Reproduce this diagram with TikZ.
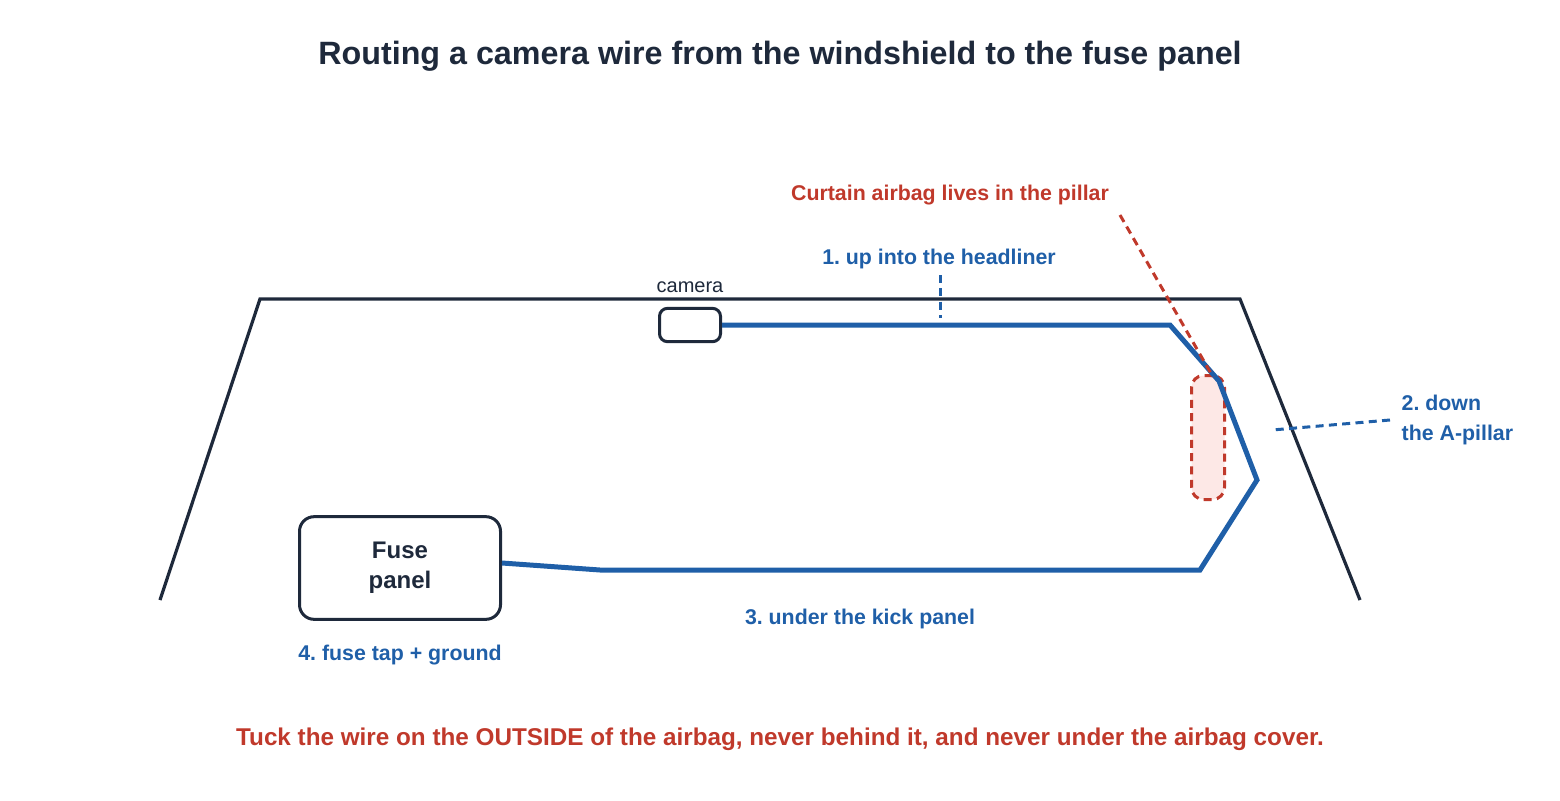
\documentclass[tikz,border=0pt]{standalone}
\usepackage{fontspec}
\setmainfont{Liberation Sans}
\usetikzlibrary{positioning}
\definecolor{navy}{RGB}{30,41,59}
\definecolor{wireblue}{RGB}{31,95,168}
\definecolor{warnred}{RGB}{192,57,43}
\definecolor{bagpink}{RGB}{253,232,230}
\tikzset{
x=0.75pt, y=-0.75pt, % one unit is one pixel of the sketch
frame/.style={draw=navy, line width=2.4pt, line join=miter},
wire/.style={draw=wireblue, line width=3.75pt, line join=miter},
box/.style={draw=navy, line width=2.25pt, fill=white, inner sep=0pt},
leader/.style={line width=2.25pt, dash pattern=on 6pt off 4pt},
bluelabel/.style={text=wireblue, font=\bfseries\fontsize{16}{22.5}\selectfont},
redlabel/.style={text=warnred, font=\bfseries\fontsize{16}{22.5}\selectfont},
}
\frenchspacing
\begin{document}
\begin{tikzpicture}
\useasboundingbox (0,0) rectangle (1560,800);
% title
\node[text=navy, font=\bfseries\fontsize{24.2}{28}\selectfont] (title) at (780,56) {Routing a camera wire from the windshield to the fuse panel};
% windshield frame
\draw[frame] (160,600) -- (260,299) -- (1240,299) -- (1360,600);
% boxes
\node[box, rounded corners=6pt, minimum width=45.75pt, minimum height=25pt] (cam) at (690,325) {};
\node[box, rounded corners=11pt, minimum width=150.75pt, minimum height=77pt, align=center, text=navy, font=\bfseries\fontsize{18}{22.5}\selectfont] (fuse) at (400,568) {Fuse\\panel};
\node[draw=warnred, fill=bagpink, leader, rounded corners=9pt, minimum width=24.75pt, minimum height=93pt, inner sep=0pt] (bag) at (1208,437.5) {};
% wire route
\draw[wire] (cam.east) -- (1170,325) -- (1219,381) -- (1257,480) -- (1200,570) -- (600,570) -- ([yshift=3.75pt]fuse.east);
% labels
\node[text=navy, font=\fontsize{15}{18}\selectfont] (camlabel) at (690,287) {camera};
\node[redlabel] (curtain) at (950,195) {Curtain airbag lives in the pillar};
\node[bluelabel] (up) at (939,259) {1. up into the headliner};
\node[bluelabel, anchor=west, align=left] (down) at (1397,420) {2. down\\the A-pillar};
\node[bluelabel] (kick) at (860,619) {3. under the kick panel};
\node[bluelabel] (fusetap) at (400,655) {4. fuse tap + ground};
\node[redlabel, font=\bfseries\fontsize{18.2}{22}\selectfont] (note) at (780,739) {Tuck the wire on the OUTSIDE of the airbag, never behind it, and never under the airbag cover.};
% leader lines
\coordinate (upend) at (940,318);
\coordinate (downend) at (1272,430);
\coordinate (bagend) at (1213,377);
\draw[leader, draw=wireblue] (940,275) -- (upend);
\draw[leader, draw=wireblue] (1390,420) -- (downend);
\draw[leader, draw=warnred] (1120,215) -- (bagend);
\end{tikzpicture}
\end{document}
